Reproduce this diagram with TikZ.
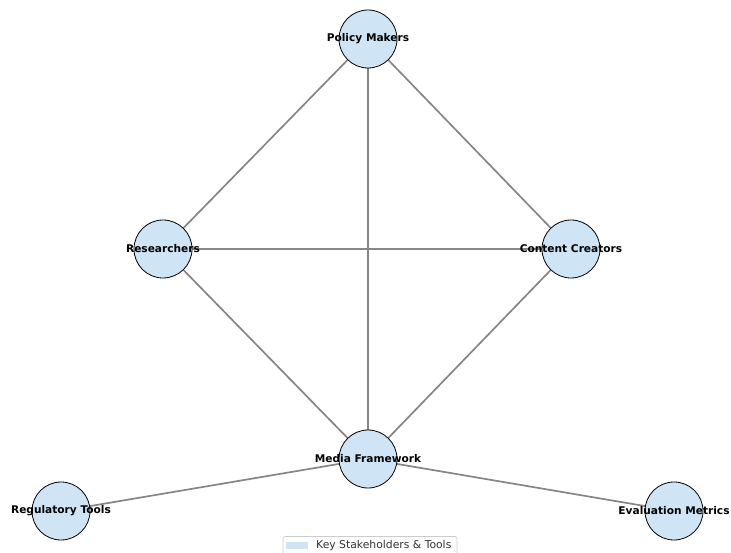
\documentclass[tikz,border=0pt]{standalone}
\usepackage{fontspec}
\setmainfont{DejaVu Sans}
\usetikzlibrary{backgrounds}
\definecolor{nodefill}{HTML}{CFE4F5}
\definecolor{edgegray}{HTML}{868686}
\definecolor{legendedge}{HTML}{CCCCCC}
\tikzset{
  stake/.style={circle, draw=black, line width=0.8pt, fill=nodefill, minimum size=58pt, inner sep=0pt},
  lbl/.style={font=\fontsize{10.6}{12}\selectfont\bfseries, text=black, inner sep=0pt},
  conn/.style={draw=edgegray, line width=1.7pt},
}
\begin{document}
\begin{tikzpicture}[x=1pt,y=-1pt]
\useasboundingbox (0,0) rectangle (731,553);
\clip (0,0) rectangle (731,553);
% nodes
\node[stake] (pm) at (368,39) {};
\node[stake] (re) at (163,249) {};
\node[stake] (cc) at (571,249) {};
\node[stake] (mf) at (368,459) {};
\node[stake] (rt) at (61,511) {};
\node[stake] (em) at (674,511) {};
% connectors
\begin{scope}[on background layer]
\fill[white] (0,0) rectangle (731,553);
\draw[conn] (pm.center) -- (re.center);
\draw[conn] (pm.center) -- (cc.center);
\draw[conn] (pm.center) -- (mf.center);
\draw[conn] (re.center) -- (cc.center);
\draw[conn] (re.center) -- (mf.center);
\draw[conn] (cc.center) -- (mf.center);
\draw[conn] (mf.center) -- (rt.center);
\draw[conn] (mf.center) -- (em.center);
\end{scope}
% labels
\node[lbl] (pmt) at (pm) {Policy Makers};
\node[lbl] (ret) at (re) {Researchers};
\node[lbl] (cct) at (cc) {Content Creators};
\node[lbl] (mft) at (mf) {Media Framework};
\node[lbl] (rtt) at (rt) {Regulatory Tools};
\node[lbl] (emt) at (em) {Evaluation Metrics};
% legend
\draw[legendedge, fill=white, line width=0.6pt, rounded corners=2pt] (283,536.5) rectangle (457,560);
\fill[nodefill] (286,542) rectangle (308,549);
\node[anchor=west, font=\fontsize{10.8}{12}\selectfont, text=black!80, inner sep=0pt] (leg) at (316,545.5) {Key Stakeholders \& Tools};
\end{tikzpicture}
\end{document}
